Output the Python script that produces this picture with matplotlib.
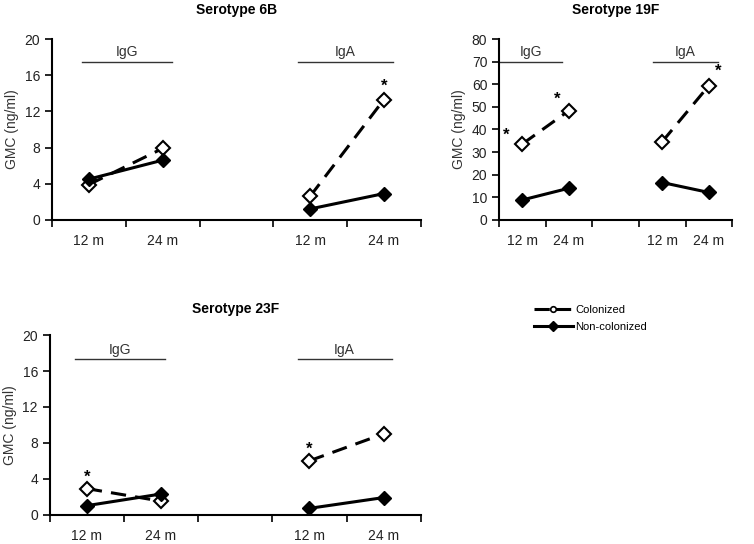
import matplotlib
matplotlib.use("Agg")
import matplotlib.pyplot as plt
from matplotlib.lines import Line2D

plt.rcParams['font.family'] = ['Liberation Sans', 'DejaVu Sans']

# x slots: 12 m, 24 m (IgG) | gap | 12 m, 24 m (IgA)
tick_labels = ["12 m", "24 m", "", "12 m", "24 m"]
x_pos = [0.5, 1.5, 3.5, 4.5]

# GMC values (ng/ml): IgG 12m, IgG 24m, IgA 12m, IgA 24m
col_6b = [3.9, 7.9, 2.6, 13.3]
noncol_6b = [4.5, 6.6, 1.2, 2.9]
col_19f = [33.6, 48.4, 34.6, 59.4]
noncol_19f = [8.8, 14.0, 16.5, 12.1]
col_23f = [2.9, 1.5, 6.0, 9.0]
noncol_23f = [1.0, 2.3, 0.7, 1.9]

# significance stars (x, y)
stars_6b = [(4.5, 14.8)]
stars_19f = [(0.15, 37.5), (1.25, 53.5), (4.7, 66.0)]
stars_23f = [(0.5, 4.2), (3.5, 7.3)]


def draw_panel(ax, title, col, noncol, ymax, ystep, stars, bars, title_pad):
    ax.plot(x_pos[:2], col[:2], color='black', lw=2.2, ls=(0, (5, 3)),
            marker='D', ms=7, mfc='white', mec='black', mew=1.5)
    ax.plot(x_pos[2:], col[2:], color='black', lw=2.2, ls=(0, (5, 3)),
            marker='D', ms=7, mfc='white', mec='black', mew=1.5)
    ax.plot(x_pos[:2], noncol[:2], color='black', lw=2.2,
            marker='D', ms=7, mfc='black', mec='black')
    ax.plot(x_pos[2:], noncol[2:], color='black', lw=2.2,
            marker='D', ms=7, mfc='black', mec='black')
    for sx, sy in stars:
        ax.text(sx, sy, "*", ha='center', va='center', fontsize=12, fontweight='bold')
    # IgG / IgA header lines
    (g0, g1), (a0, a1), yb = bars
    ax.plot([g0, g1], [yb, yb], color='#333333', lw=1.0, clip_on=False)
    ax.plot([a0, a1], [yb, yb], color='#333333', lw=1.0, clip_on=False)
    ax.text((g0 + g1) / 2, yb + ymax * 0.015, "IgG", ha='center', va='bottom',
            fontsize=10, color='#333333')
    ax.text((a0 + a1) / 2, yb + ymax * 0.015, "IgA", ha='center', va='bottom',
            fontsize=10, color='#333333')

    ax.set_xlim(0, 5)
    ax.set_ylim(0, ymax)
    ax.set_yticks(range(0, ymax + 1, ystep))
    ax.set_xticks(range(6))
    ax.set_xticklabels([])
    ax.set_xticks([0.5, 1.5, 2.5, 3.5, 4.5], minor=True)
    ax.set_xticklabels(tick_labels, minor=True)
    ax.tick_params(axis='x', which='major', direction='out', length=5, width=1.2)
    ax.tick_params(axis='x', which='minor', length=0, pad=10, labelsize=10,
                   labelcolor='#222222')
    ax.tick_params(axis='y', direction='out', length=5, width=1.2, labelsize=10,
                   labelcolor='#222222')
    for s in ['top', 'right']:
        ax.spines[s].set_visible(False)
    for s in ['left', 'bottom']:
        ax.spines[s].set_linewidth(1.5)
    ax.set_ylabel("GMC (ng/ml)", fontsize=10, color='#333333')
    ax.set_title(title, fontsize=10, fontweight='bold', pad=title_pad)


fig = plt.figure(figsize=(7.54, 5.44), dpi=100)
ax1 = fig.add_axes([0.069, 0.596, 0.489, 0.332])
ax2 = fig.add_axes([0.662, 0.596, 0.309, 0.332])
ax3 = fig.add_axes([0.066, 0.054, 0.492, 0.330])

draw_panel(ax1, "Serotype 6B", col_6b, noncol_6b, 20, 4, stars_6b,
           ((0.41, 1.63), (3.33, 4.62), 17.45), 18)
draw_panel(ax2, "Serotype 19F", col_19f, noncol_19f, 80, 10, stars_19f,
           ((0.0, 1.35), (3.3, 4.7), 70), 18)
draw_panel(ax3, "Serotype 23F", col_23f, noncol_23f, 20, 4, stars_23f,
           ((0.34, 1.55), (3.34, 4.61), 17.3), 16)

handles = [
    Line2D([], [], color='black', lw=2.2, ls=(0, (5, 2)), marker='o', ms=4,
           mfc='white', mec='black', mew=1.2),
    Line2D([], [], color='black', lw=2.2, marker='D', ms=5, mfc='black', mec='black'),
]
fig.legend(handles, ["Colonized", "Non-colonized"], loc='upper left',
           bbox_to_anchor=(0.695, 0.458), frameon=False, fontsize=8,
           handlelength=3.5, handletextpad=0.2, labelspacing=0.6)

fig.savefig("out.png", dpi=100)
